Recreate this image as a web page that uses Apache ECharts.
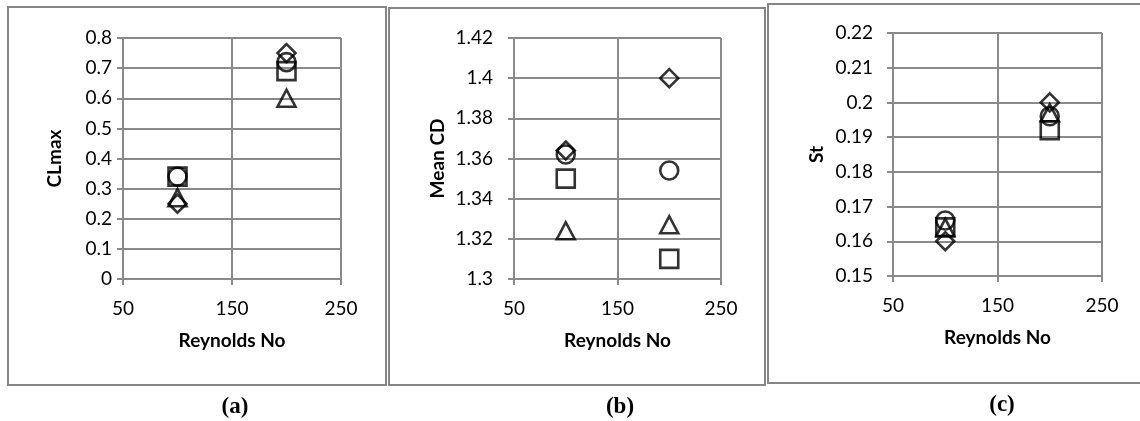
<!DOCTYPE html>
<html>
<head>
<meta charset="utf-8">
<title>Reynolds number trends</title>
<script src="https://cdn.jsdelivr.net/npm/echarts@6/dist/echarts.min.js"></script>
<style>
  html, body { margin: 0; padding: 0; background: #ffffff; }
  #chart { width: 1140px; height: 421px; }
</style>
</head>
<body>
<div id="chart"></div>
<script>
// Reynolds numbers simulated
const reynolds = [100, 200];
const xTicks = [50, 150, 250];

// (a) maximum lift coefficient
const clmaxDiamond  = [0.25, 0.75];
const clmaxSquare   = [0.34, 0.69];
const clmaxTriangle = [0.27, 0.60];
const clmaxCircle   = [0.34, 0.72];
const clmaxTicks = [0, 0.1, 0.2, 0.3, 0.4, 0.5, 0.6, 0.7, 0.8];

// (b) mean drag coefficient
const cdDiamond  = [1.364, 1.400];
const cdSquare   = [1.350, 1.310];
const cdTriangle = [1.324, 1.327];
const cdCircle   = [1.362, 1.354];
const cdTicks = [1.3, 1.32, 1.34, 1.36, 1.38, 1.4, 1.42];

// (c) Strouhal number
const stDiamond  = [0.160, 0.200];
const stSquare   = [0.164, 0.192];
const stTriangle = [0.164, 0.197];
const stCircle   = [0.166, 0.196];
const stTicks = [0.15, 0.16, 0.17, 0.18, 0.19, 0.2, 0.21, 0.22];

const panelTitles = ['CLmax', 'Mean CD', 'St'];
const panelTags = ['(a)', '(b)', '(c)'];
const xName = 'Reynolds No';

const GRID_GRAY = '#8a8a8a';
const TICK_FONT = 'Lato, "Open Sans", sans-serif';

const panels = [
  { ticks: clmaxTicks, sets: [clmaxDiamond, clmaxSquare, clmaxTriangle, clmaxCircle],
    grid: { left: 123, top: 38, width: 218, height: 241 }, labelMargin: 11, nameGap: 59 },
  { ticks: cdTicks, sets: [cdDiamond, cdSquare, cdTriangle, cdCircle],
    grid: { left: 514, top: 38, width: 207, height: 241 }, labelMargin: 21, nameGap: 67 },
  { ticks: stTicks, sets: [stDiamond, stSquare, stTriangle, stCircle],
    grid: { left: 893, top: 33, width: 209, height: 243 }, labelMargin: 20, nameGap: 67 }
];

const markers = [
  { symbol: 'diamond', size: [18, 18] },
  { symbol: 'rect', size: [18, 18] },
  { symbol: 'triangle', size: [18, 17] },
  { symbol: 'circle', size: [18, 18] }
];
const setNames = ['Diamond set', 'Square set', 'Triangle set', 'Circle set'];

function stepOf(ticks) {
  return +(ticks[1] - ticks[0]).toFixed(6);
}

const grids = [], xAxes = [], yAxes = [], series = [];
panels.forEach((p, i) => {
  grids.push(Object.assign({ containLabel: false }, p.grid));
  xAxes.push({
    type: 'value', gridIndex: i,
    min: xTicks[0], max: xTicks[xTicks.length - 1], interval: stepOf(xTicks),
    name: xName, nameLocation: 'middle', nameGap: 52,
    nameTextStyle: { fontFamily: TICK_FONT, fontWeight: 'bold', fontSize: 19, color: '#000' },
    axisLine: { show: true, onZero: false, lineStyle: { color: GRID_GRAY, width: 2 } },
    axisTick: { show: true, length: 6, inside: false, lineStyle: { color: GRID_GRAY, width: 2 } },
    axisLabel: { fontFamily: TICK_FONT, fontSize: 19, color: '#000', margin: 20 },
    splitLine: { show: true, lineStyle: { color: GRID_GRAY, width: 2 } }
  });
  yAxes.push({
    type: 'value', gridIndex: i,
    min: p.ticks[0], max: p.ticks[p.ticks.length - 1], interval: stepOf(p.ticks),
    name: panelTitles[i], nameLocation: 'middle', nameGap: p.nameGap, nameRotate: 90,
    nameTextStyle: { fontFamily: TICK_FONT, fontWeight: 'bold', fontSize: 19, color: '#000' },
    axisLine: { show: true, onZero: false, lineStyle: { color: GRID_GRAY, width: 2 } },
    axisTick: { show: true, length: 6, inside: false, lineStyle: { color: GRID_GRAY, width: 2 } },
    axisLabel: {
      fontFamily: TICK_FONT, fontSize: 19, color: '#000', margin: p.labelMargin,
      formatter: v => String(+v.toFixed(4))
    },
    splitLine: { show: true, lineStyle: { color: GRID_GRAY, width: 2 } }
  });
  p.sets.forEach((vals, k) => {
    series.push({
      name: setNames[k], type: 'scatter', xAxisIndex: i, yAxisIndex: i,
      symbol: markers[k].symbol, symbolSize: markers[k].size,
      itemStyle: { color: 'rgba(0,0,0,0)', borderColor: '#000', borderWidth: 2.6 },
      emphasis: { disabled: true },
      data: reynolds.map((re, j) => [re, vals[j]])
    });
  });
});

// frames round each panel and the panel tags below them
const frames = [
  { x: 8, y: 7, w: 378, h: 378 },
  { x: 389, y: 8, w: 376, h: 377 },
  { x: 768, y: 4, w: 380, h: 379 }
];
const tagPos = [[235, 407], [620, 407], [1002, 405]];
const graphics = [];
frames.forEach(f => graphics.push({
  type: 'rect', silent: true, z: -1,
  shape: { x: f.x, y: f.y, width: f.w, height: f.h },
  style: { fill: 'none', stroke: '#858585', lineWidth: 2 }
}));
panelTags.forEach((t, i) => graphics.push({
  type: 'text', silent: true,
  x: tagPos[i][0], y: tagPos[i][1],
  style: {
    text: t, fill: '#000', align: 'center', verticalAlign: 'middle',
    font: 'bold 23px "Liberation Serif", "Times New Roman", serif'
  }
}));

const chart = echarts.init(document.getElementById('chart'), null, { renderer: 'canvas' });
chart.setOption({
  animation: false,
  backgroundColor: '#ffffff',
  grid: grids,
  xAxis: xAxes,
  yAxis: yAxes,
  series: series,
  graphic: graphics
});
</script>
</body>
</html>
